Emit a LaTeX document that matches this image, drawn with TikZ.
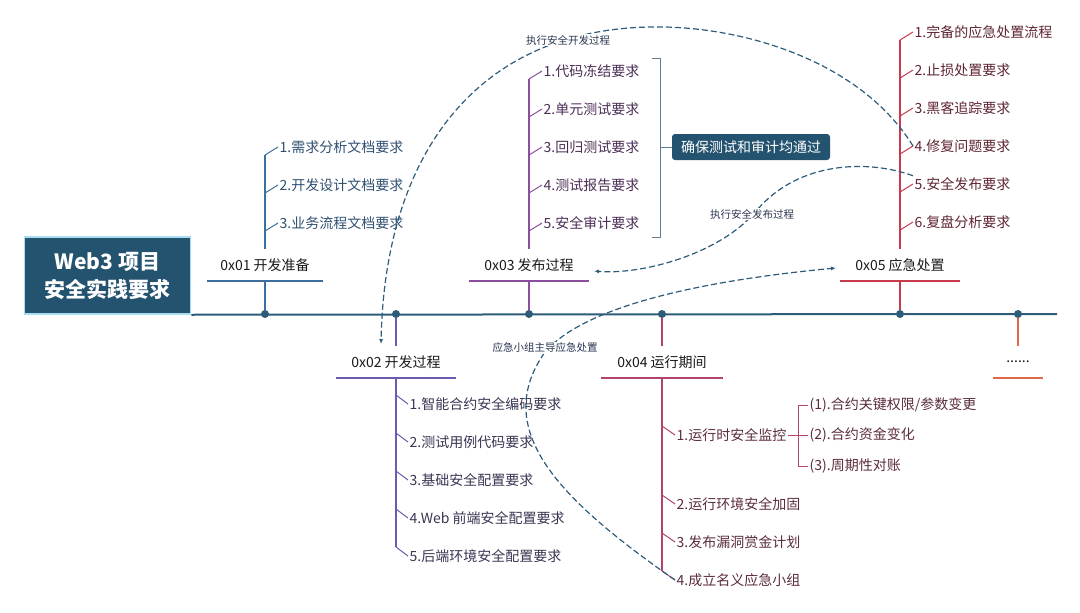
\documentclass[tikz,border=0pt]{standalone}
\usepackage{fontspec}
\setmainfont{Noto Sans CJK SC}
\usepackage{xcolor}
\usetikzlibrary{arrows.meta}
\definecolor{axisblue}{HTML}{2C5C7A}
\definecolor{titlefill}{HTML}{24536F}
\definecolor{titleedge}{HTML}{A9DDF2}
\definecolor{braceblue}{HTML}{5C7D93}
\definecolor{notetext}{HTML}{2B3550}
\definecolor{cPrep}{HTML}{3C6E9E}
\definecolor{cDev}{HTML}{6E5BAF}
\definecolor{cRel}{HTML}{8C4E9E}
\definecolor{cRun}{HTML}{B2436F}
\definecolor{cResp}{HTML}{C83B4E}
\definecolor{cMore}{HTML}{E06A45}
\definecolor{tPrep}{HTML}{2F4F70}
\definecolor{tDev}{HTML}{3A3552}
\definecolor{tRel}{HTML}{4B2E55}
\definecolor{tRun}{HTML}{5C2C3E}
\definecolor{tResp}{HTML}{5E2530}

\begin{document}
\begin{tikzpicture}[x=1pt, y=-1pt,
    item/.style={anchor=west, inner sep=1.5pt, font=\fontsize{14}{16}\selectfont},
    phase/.style={minimum width=120pt, minimum height=32pt, inner sep=0pt, text=black!90, font=\fontsize{14}{16}\selectfont},
    note/.style={fill=white, inner sep=1pt, text=notetext, font=\fontsize{10.5}{12}\selectfont},
    dot/.style={circle, fill=axisblue, inner sep=0pt, minimum size=8pt},
    tick/.style={line width=1pt},
    stem/.style={line width=1.5pt},
    under/.style={line width=2pt},
    flow/.style={axisblue, line width=1.2pt, dash pattern=on 6pt off 3pt, -{Latex[length=5pt,width=4pt]}},
  ]
  \useasboundingbox (0,0) rectangle (1080,613);

  \node[fill=titlefill, draw=titleedge, line width=1.5pt, text=white, align=center,
        minimum width=166pt, minimum height=77pt, inner sep=0pt,
        font=\bfseries\fontsize{21}{28}\selectfont] (T) at (107.5,275.5) {Web3 项目\\安全实践要求};
  \coordinate (axend) at (1057,314);
  \draw[axisblue, line width=2pt] (T.south east) -- (axend);
  \foreach \x [count=\i] in {265,396,529,662,900,1018}
    \node[dot] (O\i) at (\x,314) {};

  \node[phase, minimum width=116pt] (P1) at (265,265) {0x01 开发准备};
  \node[phase] (P2) at (396,362) {0x02 开发过程};
  \node[phase] (P3) at (529,265) {0x03 发布过程};
  \node[phase, minimum width=122pt] (P4) at (662,362) {0x04 运行期间};
  \node[phase] (P5) at (900,265) {0x05 应急处置};
  \node[phase, minimum width=50pt] (P6) at (1018,362) {......};

  \draw[cPrep, stem] (O1) -- (P1.south);
  \draw[cPrep, under] (P1.south west) -- (P1.south east);
  \foreach \t [count=\i] in {1.需求分析文档要求,2.开发设计文档要求,3.业务流程文档要求} {
    \node[item, text=tPrep] (A\i) at (278,109+38*\i) {\t};
    \coordinate (SA\i) at (265,117+38*\i);
    \draw[cPrep, tick] (SA\i) -- (A\i.west);
  }
  \draw[cPrep, stem] (P1.north) -- (SA1);

  \draw[cDev, stem] (O2) -- (P2.north);
  \draw[cDev, under] (P2.south west) -- (P2.south east);
  \foreach \t [count=\i] in {1.智能合约安全编码要求,2.测试用例代码要求,3.基础安全配置要求,4.Web 前端安全配置要求,5.后端环境安全配置要求} {
    \node[item, text=tDev] (B\i) at (408,366+38*\i) {\t};
    \coordinate (SB\i) at (396,357+38*\i);
    \draw[cDev, tick] (SB\i) -- (B\i.west);
  }
  \draw[cDev, stem] (P2.south) -- (SB5);

  \draw[cRel, stem] (O3) -- (P3.south);
  \draw[cRel, under] (P3.south west) -- (P3.south east);
  \foreach \t [count=\i] in {1.代码冻结要求,2.单元测试要求,3.回归测试要求,4.测试报告要求,5.安全审计要求} {
    \node[item, text=tRel] (C\i) at (542,33+38*\i) {\t};
    \coordinate (SC\i) at (529,41+38*\i);
    \draw[cRel, tick] (SC\i) -- (C\i.west);
  }
  \draw[cRel, stem] (P3.north) -- (SC1);
  \node[fill=titlefill, text=white, rounded corners=3pt, minimum width=158pt, minimum height=26pt,
        inner sep=0pt, font=\fontsize{14}{16}\selectfont] (G) at (751,147) {确保测试和审计均通过};
  \draw[braceblue, tick] (652,58) -- (660,58) -- (660,237) -- (652,237);
  \draw[braceblue, tick] (660,147) -- (G.west);

  \draw[cRun, stem] (O4) -- (P4.north);
  \draw[cRun, under] (P4.south west) -- (P4.south east);
  \foreach \y/\t [count=\i] in {435/1.运行时安全监控,504/2.运行环境安全加固,542/3.发布漏洞赏金计划,580/4.成立名义应急小组} {
    \node[item, text=tRun] (D\i) at (675,\y) {\t};
    \coordinate (SD\i) at (662,\y-9);
    \draw[cRun, tick] (SD\i) -- (D\i.west);
  }
  \draw[cRun, stem] (P4.south) -- (SD4);
  \node[item, text=tRun] (F1) at (808,405) {(1).合约关键权限/参数变更};
  \node[item, text=tRun] (F2) at (808,435) {(2).合约资金变化};
  \node[item, text=tRun] (F3) at (808,466) {(3).周期性对账};
  \draw[cRun, tick] (F1.west) -- (798,405) -- (798,466) -- (F3.west);
  \draw[cRun, tick] (D1.east) -- (F2.west);

  \draw[cResp, stem] (O5) -- (P5.south);
  \draw[cResp, under] (P5.south west) -- (P5.south east);
  \foreach \t [count=\i] in {1.完备的应急处置流程,2.止损处置要求,3.黑客追踪要求,4.修复问题要求,5.安全发布要求,6.复盘分析要求} {
    \node[item, text=tResp] (E\i) at (913,-6+38*\i) {\t};
    \coordinate (SE\i) at (900,2+38*\i);
    \draw[cResp, tick] (SE\i) -- (E\i.west);
  }
  \draw[cResp, stem] (P5.north) -- (SE1);

  \draw[cMore, stem] (O6) -- (P6.north);
  \draw[cMore, under] (P6.south west) -- (P6.south east);

  \coordinate (devin) at (381,344);
  \coordinate (relin) at (594,271);
  \coordinate (respin) at (836,268);
  \draw[flow] (E4.west) .. controls (860,60) and (740,25) .. (650,27)
              .. controls (480,30) and (385,150) .. (devin);
  \draw[flow] (E5.north west) .. controls (870,160) and (800,160) .. (757,210)
              .. controls (720,255) and (640,275) .. (relin);
  \draw[flow] (D4.west) .. controls (560,500) and (490,430) .. (545,352)
              .. controls (590,300) and (730,278) .. (respin);
  \node[note] (N1) at (568,40) {执行安全开发过程};
  \node[note] (N2) at (752,214) {执行安全发布过程};
  \node[note] (N3) at (545,348) {应急小组主导应急处置};
\end{tikzpicture}
\end{document}
